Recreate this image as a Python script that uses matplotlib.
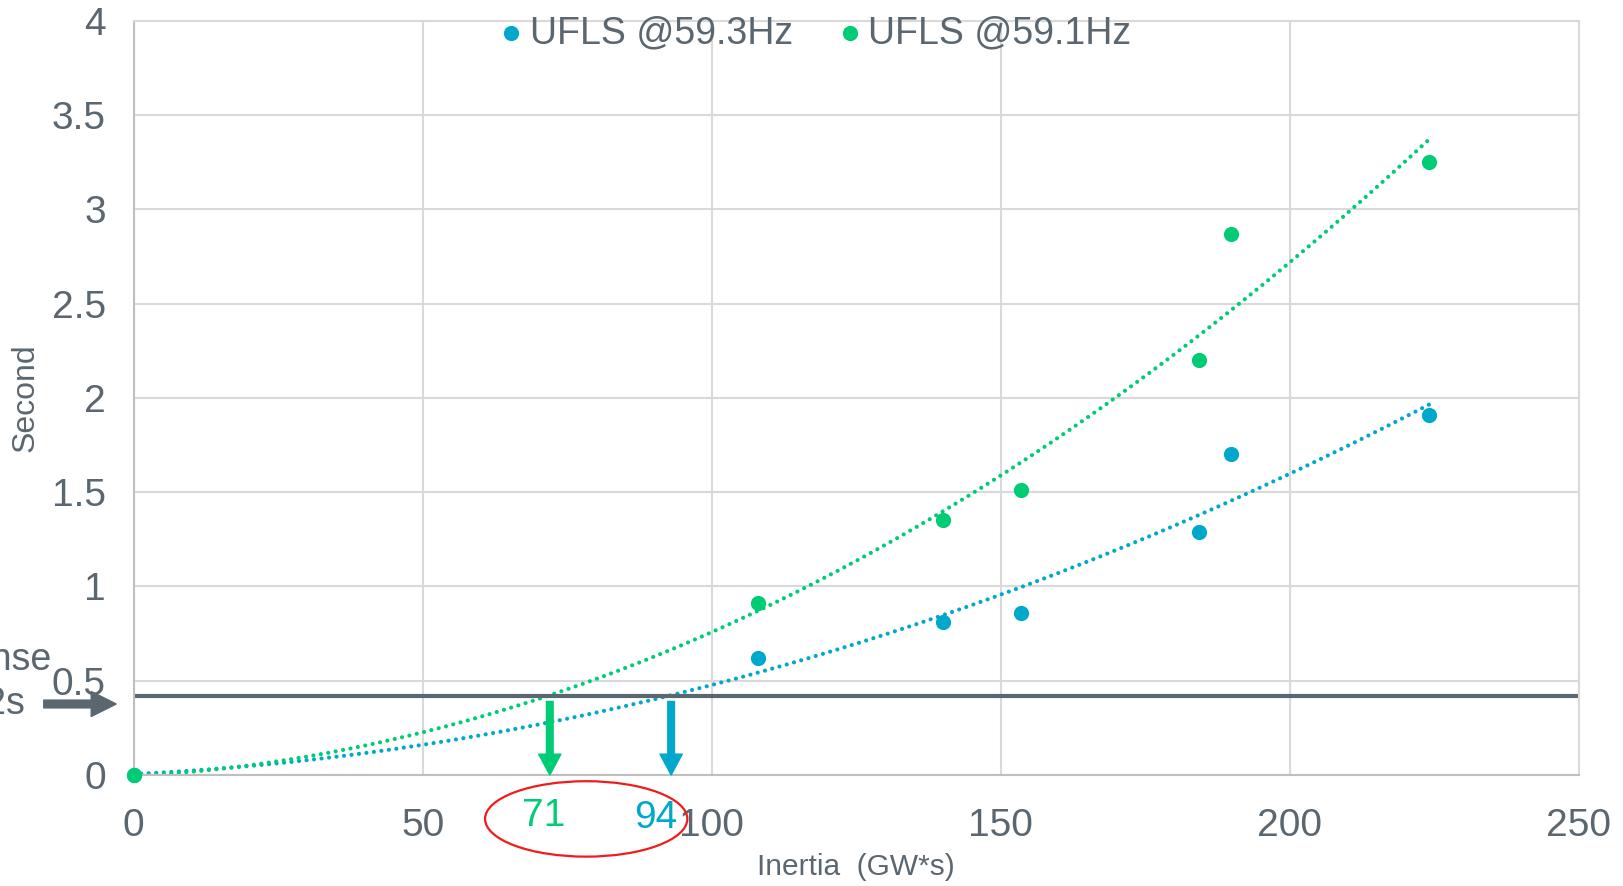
import numpy as np
import matplotlib.pyplot as plt
from matplotlib.patches import Ellipse, FancyArrowPatch

# data
inertia = [0, 108, 140, 153.6, 184.4, 189.8, 224.2]
t_593 = [0, 0.62, 0.81, 0.86, 1.29, 1.70, 1.91]
t_591 = [0, 0.91, 1.35, 1.51, 2.20, 2.87, 3.25]
response_level = 0.42
cross_591 = 71
cross_593 = 94
xticks = [0, 50, 100, 150, 200, 250]
yticks = [0, 0.5, 1, 1.5, 2, 2.5, 3, 3.5, 4]
ytick_labels = ['0', '0.5', '1', '1.5', '2', '2.5', '3', '3.5', '4']

blue = '#00a8cb'
green = '#00cc76'
grey = '#5a6670'
gridc = '#d9d9d9'

plt.rcParams['font.family'] = ['Liberation Sans', 'DejaVu Sans']

fig = plt.figure(figsize=(16.24, 8.86), dpi=100)
ax = fig.add_axes([0.0823, 0.1253, 0.8897, 0.8513])

ax.grid(True, color=gridc, lw=1.5)
ax.set_axisbelow(True)
for s in ax.spines.values():
    s.set_color(gridc)
    s.set_linewidth(1.5)
ax.spines['left'].set_color('#bfbfbf')
ax.spines['bottom'].set_color('#bfbfbf')

# polynomial trendlines (order 2)
xs = np.linspace(0, max(inertia), 200)
p1 = np.polyfit(inertia, t_593, 2)
p2 = np.polyfit(inertia, t_591, 2)
ax.plot(xs, np.polyval(p1, xs), color=blue, lw=3, linestyle=(0, (0.01, 1.8)),
        dash_capstyle='round')
ax.plot(xs, np.polyval(p2, xs), color=green, lw=3, linestyle=(0, (0.01, 1.8)),
        dash_capstyle='round')

ax.scatter(inertia, t_593, s=120, color=blue, label='UFLS @59.3Hz', zorder=3, lw=0, clip_on=False)
ax.scatter(inertia, t_591, s=120, color=green, label='UFLS @59.1Hz', zorder=3, lw=0, clip_on=False)

ax.axhline(response_level, color=grey, lw=3, zorder=2)

# arrows down to x axis
for xv, c in [(cross_591 + 1, green), (cross_593 - 1, blue)]:
    ax.annotate('', xy=(xv, 0.0), xytext=(xv, response_level - 0.03),
                annotation_clip=False,
                arrowprops=dict(arrowstyle='simple,head_length=0.75,head_width=0.8,tail_width=0.24',
                                color=c, mutation_scale=20, shrinkA=0, shrinkB=0))

ax.text(cross_591, -0.22, str(cross_591), color=green, fontsize=28, ha='center', va='center')
ax.text(90.3, -0.23, str(cross_593), color=blue, fontsize=28, ha='center', va='center')
ax.add_patch(Ellipse((78.3, -0.233), 35, 0.40, fill=False, ec='#ee1c1c', lw=1.6, clip_on=False))

ax.set_xlim(0, 250)
ax.set_ylim(0, 4)
ax.set_xticks(xticks)
ax.set_yticks(yticks)
ax.set_yticklabels(ytick_labels)
ax.tick_params(axis='both', length=0, labelsize=28, labelcolor=grey)
ax.tick_params(axis='x', pad=24)
ax.tick_params(axis='y', pad=20)

ax.set_xlabel('Inertia  (GW*s)', fontsize=21.5, color=grey, labelpad=6)
ax.set_ylabel('Second', fontsize=23, color=grey, labelpad=8)

leg = ax.legend(loc='upper center', bbox_to_anchor=(0.463, 1.052), ncol=2, frameon=False,
                fontsize=27, labelcolor=grey, markerscale=1.0, handletextpad=-0.5,
                columnspacing=0.5)

# cut-off annotation at the left edge
fig.text(52 / 1624, 1 - 660 / 886, 'Response', fontsize=27, color=grey,
         ha='right', va='center')
fig.text(25 / 1624, 1 - 704 / 886, '0.42s', fontsize=27, color=grey,
         ha='right', va='center')
fig.patches.append(FancyArrowPatch(
    (41, 182), (119, 182), transform=None,
    arrowstyle='simple,head_length=0.9,head_width=0.9,tail_width=0.28',
    mutation_scale=20, color=grey))

fig.savefig('out.png', dpi=100)
